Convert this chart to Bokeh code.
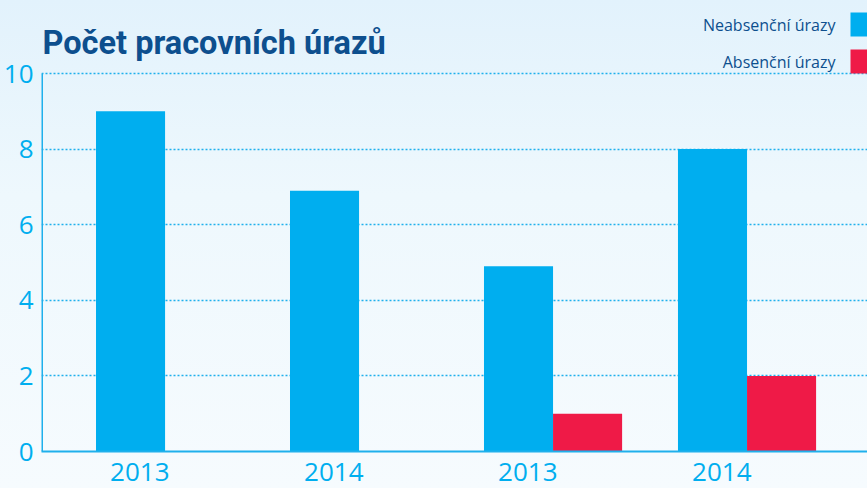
from bokeh.plotting import figure
from bokeh.models import (ColumnDataSource, FixedTicker, Label, BoxAnnotation, Range1d)
from bokeh.embed import file_html
from bokeh.resources import INLINE

# ---- data ----
years = ["2013", "2014", "2013", "2014"]
neabsencni = [9, 6.9, 4.9, 8]
absencni = [0, 0, 1, 2]
series_names = ["Neabsenční úrazy", "Absenční úrazy"]
y_ticks = [0, 2, 4, 6, 8, 10]
title_text = "Počet pracovních úrazů"

BLUE = "#00aeef"
RED = "#ef1a47"
DARK = "#0d4f8e"
AXIS = "#1fb0ec"

# layout constants (pixels)
W, H = 867, 488
LEFT = 41          # y-axis position
BOTTOM = 451       # canvas y of value 0
TOP_VAL_Y = 73     # canvas y of the top tick value
y_top = max(y_ticks)
y_max = y_top * BOTTOM / (BOTTOM - TOP_VAL_Y)

bar_w = 0.356
idx = list(range(len(years)))
src = ColumnDataSource(dict(
    xb=[i - bar_w / 2 for i in idx],
    xr=[i + bar_w / 2 for i in idx],
    nb=neabsencni,
    ab=absencni,
))

x0, x1 = -0.637, 3.621
p = figure(width=W, height=H, output_backend="svg", toolbar_location=None,
           x_range=Range1d(x0, x1), y_range=Range1d(0, y_max),
           min_border_left=LEFT, min_border_right=0, min_border_top=0,
           min_border_bottom=H - BOTTOM)

p.styles = {"background": "linear-gradient(to bottom, #e2f2fc 0%, #eef8fd 40%, #f6fbfe 100%)"}
p.border_fill_alpha = 0
p.background_fill_alpha = 0
p.outline_line_color = None

p.vbar(x="xb", top="nb", width=bar_w, source=src, color=BLUE, line_color=None)
p.vbar(x="xr", top="ab", width=bar_w, source=src, color=RED, line_color=None)

# axes
p.xaxis.ticker = FixedTicker(ticks=[i - 0.13 for i in idx])
p.xaxis.major_label_overrides = {i - 0.13: y for i, y in zip(idx, years)}
p.yaxis.ticker = FixedTicker(ticks=y_ticks)
for ax in (p.xaxis, p.yaxis):
    ax.axis_line_color = AXIS
    ax.axis_line_width = 2
    ax.major_tick_line_color = None
    ax.minor_tick_line_color = None
    ax.major_tick_out = 0
    ax.major_tick_in = 0
    ax.minor_tick_out = 0
    ax.major_label_text_color = BLUE
    ax.major_label_text_font = "Open Sans"
    ax.major_label_text_font_size = "26px"
p.yaxis.axis_line_color = None
p.xaxis.major_label_standoff = 11
p.yaxis.major_label_standoff = 8
# y-axis line only from 0 to the top tick
p.segment(x0=[x0], y0=[0], x1=[x0], y1=[y_top], line_color=AXIS, line_width=3)

p.xgrid.grid_line_color = None
p.ygrid.grid_line_color = AXIS
p.ygrid.grid_line_dash = "2 2"
p.ygrid.grid_line_width = 1.5

# title (screen units are relative to the frame's bottom-left)
p.add_layout(Label(x=1, y=BOTTOM - 42, x_units="screen", y_units="screen",
                   text=title_text, text_align="left", text_baseline="alphabetic",
                   text_font="Roboto", text_font_size="32.5px", text_font_style="bold",
                   text_color=DARK))

# legend (label left of swatch, top right)
for k, (name, col) in enumerate(zip(series_names, [BLUE, RED])):
    cy = 24 + 37 * k  # canvas y of the row centre
    p.add_layout(Label(x=835 - LEFT, y=BOTTOM - cy, x_units="screen", y_units="screen",
                       text=name, text_align="right", text_baseline="middle",
                       text_font="Open Sans", text_font_size="16px", text_color=DARK))
    p.add_layout(BoxAnnotation(left=850 - LEFT, right=W - LEFT,
                               bottom=BOTTOM - cy - 12, top=BOTTOM - cy + 12,
                               left_units="screen", right_units="screen",
                               bottom_units="screen", top_units="screen",
                               fill_color=col, fill_alpha=1, line_color=None))

open("out.html", "w").write(file_html(p, INLINE))
